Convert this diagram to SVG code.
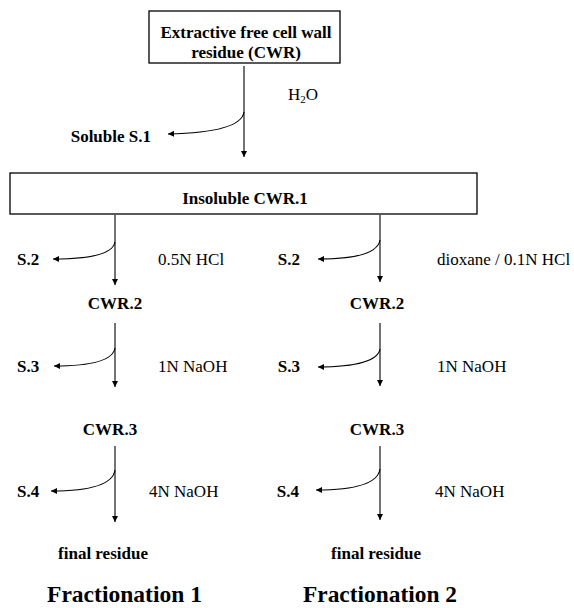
<svg xmlns="http://www.w3.org/2000/svg" width="574" height="608" viewBox="0 0 574 608">
<style>
text{font-family:"Liberation Serif","DejaVu Serif","Times New Roman",serif;fill:#000}
.b{font-weight:bold;font-size:17px}
.r{font-size:17px}
.t{font-weight:bold;font-size:23px}
.box{fill:#fff;stroke:#000;stroke-width:1.3}
.c{fill:none;stroke:#000;stroke-width:1.1}
</style>
<defs>
<marker id="ah" markerUnits="userSpaceOnUse" markerWidth="8" markerHeight="8" refX="6" refY="3" orient="auto">
<path d="M0,0 L6,3 L0,6 Z" fill="#000"/>
</marker>
</defs>
<rect width="574" height="608" fill="#fff"/>
<g id="connectors">
<path class="c" d="M244,66 V157" marker-end="url(#ah)"/>
<path class="c" d="M244,112 C242,126 215,133 168,134" marker-end="url(#ah)"/>
<path class="c" d="M115,215 V285" marker-end="url(#ah)"/>
<path class="c" d="M115,242 C113,254 90,259 53,259" marker-end="url(#ah)"/>
<path class="c" d="M115,323 V387" marker-end="url(#ah)"/>
<path class="c" d="M115,348 C113,361 90,366 54,366" marker-end="url(#ah)"/>
<path class="c" d="M115,446 V522" marker-end="url(#ah)"/>
<path class="c" d="M115,470 C113,485 90,491 51,491" marker-end="url(#ah)"/>
<path class="c" d="M380,215 V282" marker-end="url(#ah)"/>
<path class="c" d="M380,240 C378,253 355,259 318,259" marker-end="url(#ah)"/>
<path class="c" d="M380,323 V386" marker-end="url(#ah)"/>
<path class="c" d="M380,349 C378,361 355,367 318,367" marker-end="url(#ah)"/>
<path class="c" d="M380,446 V520" marker-end="url(#ah)"/>
<path class="c" d="M380,469 C378,484 355,490 316,490" marker-end="url(#ah)"/>
</g>
<g id="cwr">
<rect class="box" x="149" y="11" width="191" height="52"/>
<text class="b" x="246" y="38" text-anchor="middle">Extractive free cell wall</text>
<text class="b" x="246" y="58" text-anchor="middle">residue (CWR)</text>
</g>
<g id="h2o"><text class="r" x="288" y="100">H<tspan font-size="11" dy="3">2</tspan><tspan dy="-3">O</tspan></text></g>
<g id="s1"><text class="b" x="151" y="142" text-anchor="end">Soluble S.1</text></g>
<g id="cwr1">
<rect class="box" x="10" y="173" width="467" height="41"/>
<text class="b" x="245" y="204" text-anchor="middle">Insoluble CWR.1</text>
</g>
<g id="f1-s2"><text class="b" x="17" y="265">S.2</text></g>
<g id="f1-reagent1"><text class="r" x="158" y="265">0.5N HCl</text></g>
<g id="f1-cwr2"><text class="b" x="115" y="309" text-anchor="middle">CWR.2</text></g>
<g id="f1-s3"><text class="b" x="17" y="372">S.3</text></g>
<g id="f1-reagent2"><text class="r" x="158" y="372">1N NaOH</text></g>
<g id="f1-cwr3"><text class="b" x="110" y="435" text-anchor="middle">CWR.3</text></g>
<g id="f1-s4"><text class="b" x="17" y="497">S.4</text></g>
<g id="f1-reagent3"><text class="r" x="149" y="497">4N NaOH</text></g>
<g id="f1-final"><text class="b" x="103" y="559" text-anchor="middle">final residue</text></g>
<g id="f1-title"><text class="t" x="47" y="602" textLength="155" lengthAdjust="spacingAndGlyphs">Fractionation 1</text></g>
<g id="f2-s2"><text class="b" x="300" y="265" text-anchor="end">S.2</text></g>
<g id="f2-reagent1"><text class="r" x="437" y="265">dioxane / 0.1N HCl</text></g>
<g id="f2-cwr2"><text class="b" x="377" y="309" text-anchor="middle">CWR.2</text></g>
<g id="f2-s3"><text class="b" x="300" y="372" text-anchor="end">S.3</text></g>
<g id="f2-reagent2"><text class="r" x="437" y="372">1N NaOH</text></g>
<g id="f2-cwr3"><text class="b" x="377" y="435" text-anchor="middle">CWR.3</text></g>
<g id="f2-s4"><text class="b" x="299" y="497" text-anchor="end">S.4</text></g>
<g id="f2-reagent3"><text class="r" x="435" y="497">4N NaOH</text></g>
<g id="f2-final"><text class="b" x="376" y="559" text-anchor="middle">final residue</text></g>
<g id="f2-title"><text class="t" x="303" y="602" textLength="154" lengthAdjust="spacingAndGlyphs">Fractionation 2</text></g>
</svg>
